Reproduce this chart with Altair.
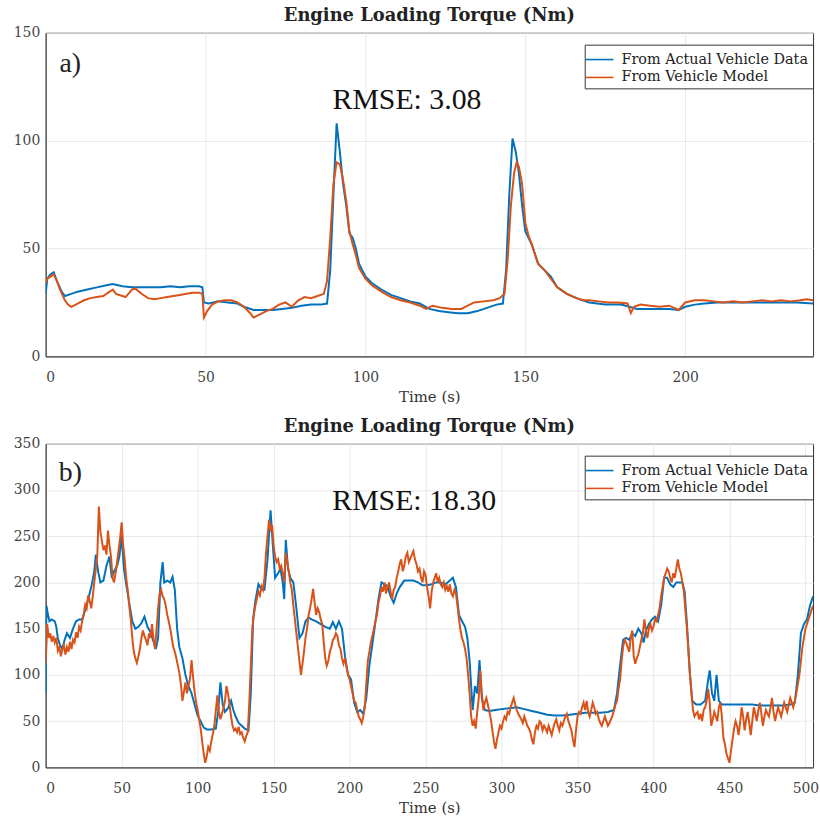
import altair as alt
import pandas as pd

SERIES = ["From Actual Vehicle Data", "From Vehicle Model"]
COLORS = ["#0072BD", "#D95319"]
TITLE = "Engine Loading Torque (Nm)"
X_TITLE = "Time (s)"
PANEL_LABELS = ["a)", "b)"]
RMSE_TEXT = ["RMSE: 3.08", "RMSE: 18.30"]
X_TICKS_A = [0, 50, 100, 150, 200]
Y_TICKS_A = [0, 50, 100, 150]
X_TICKS_B = [0, 50, 100, 150, 200, 250, 300, 350, 400, 450, 500]
Y_TICKS_B = [0, 50, 100, 150, 200, 250, 300, 350]

# (time s, torque Nm) read from panel a)
TOP_ACTUAL = [(0, 29), (0.5, 36), (1.5, 38), (2.5, 39), (3.5, 35), (5, 30), (6, 28), (8, 29), (10, 30),
              (13, 31), (16, 32), (19, 33), (21, 33.5), (24, 32.5), (27, 32), (30, 32), (33, 32), (36, 32),
              (39, 32.5), (42, 32), (45, 32.5), (48, 32.5), (49, 32), (49.5, 25), (51, 24.5), (54, 25.5),
              (57, 25), (60, 24.5), (62, 23), (65, 21.5), (68, 21.5), (71, 21.5), (74, 22), (77, 22.5),
              (80, 23.5), (83, 24), (86, 24), (88, 24.5), (89, 40), (90, 75), (91, 108), (92, 95), (93, 80),
              (94, 70), (95, 57), (96, 55), (97, 50), (98, 43), (100, 37), (102, 34), (105, 31), (108, 28.5),
              (111, 27), (114, 25.5), (117, 24.5), (120, 22), (123, 21), (126, 20.5), (129, 20), (132, 20),
              (135, 21), (138, 22.5), (141, 24), (143, 24.5), (144, 40), (145, 75), (146, 101), (147, 95),
              (148, 85), (149, 70), (150, 58), (151, 55), (152, 52), (154, 43), (156, 40), (158, 37), (160, 32),
              (163, 29), (166, 27), (170, 25), (175, 24), (180, 24), (185, 22), (190, 22), (195, 22),
              (198, 21.5), (200, 23), (203, 24), (206, 24.5), (210, 25), (215, 25), (220, 25), (225, 25),
              (230, 25), (235, 25), (240, 24.5)]

TOP_MODEL = [(0, 34), (0.5, 36), (1.5, 37), (2.5, 38), (3.5, 35), (4.5, 31), (6, 26), (7, 24), (8, 23),
             (10, 24.5), (12, 26), (14, 27), (16, 27.5), (18, 28), (20, 30), (21, 31), (22, 29), (24, 28),
             (25, 27.5), (27, 31), (28, 31.5), (30, 29), (32, 27), (34, 26.5), (36, 27), (38, 27.5), (40, 28),
             (42, 28.5), (44, 29), (46, 29.5), (48, 29.5), (49, 29), (49.5, 18), (50.5, 21), (52, 24),
             (54, 25.5), (56, 26), (58, 26), (60, 25), (62, 23), (64, 20), (65, 18), (67, 19.5), (69, 21),
             (71, 22), (73, 24), (75, 25), (77, 23), (79, 26), (81, 27.5), (83, 27), (85, 28), (87, 29),
             (88, 35), (89, 55), (90, 80), (91, 90), (92, 89), (93, 82), (94, 72), (95, 58), (96, 52), (97, 47),
             (98, 41), (100, 36), (102, 33), (105, 30), (108, 27.5), (111, 26), (114, 25), (117, 23.5),
             (119, 22), (121, 23.5), (124, 22.5), (127, 22), (130, 22), (132, 23.5), (134, 25), (137, 25.5),
             (140, 26), (142, 27), (143.5, 29), (144.5, 45), (145.5, 70), (146.5, 85), (147.3, 90), (148, 88),
             (149, 80), (150, 62), (151, 56), (152, 52), (154, 43), (156, 40), (158, 36), (160, 32), (163, 29),
             (166, 27), (168, 26), (170, 26), (173, 25.5), (176, 25), (179, 25), (182, 24.5), (183, 20),
             (184, 23), (186, 24), (189, 23.5), (192, 23), (195, 23.5), (198, 21.5), (200, 25), (203, 26),
             (206, 26), (209, 25.5), (212, 25), (215, 25.5), (218, 25), (221, 25.5), (224, 26), (227, 25.5),
             (230, 26), (233, 25.5), (236, 26), (238, 26.5), (240, 26)]

# (time s, torque Nm) read from panel b)
BOTTOM_ACTUAL = [(0, 80), (0.5, 175), (1.5, 165), (2.5, 158), (4, 160), (6, 158), (7, 152), (8, 140),
                 (9.5, 132), (11, 128), (12.5, 138), (14, 145), (16, 140), (18, 150), (20, 158), (22, 160),
                 (24, 160), (26, 170), (28, 182), (30, 195), (32, 212), (33, 230), (34.5, 212), (36, 200),
                 (38, 202), (40, 218), (42, 228), (43.5, 205), (45, 212), (47, 218), (48.5, 228), (50, 250),
                 (51.5, 215), (53, 198), (55, 178), (57, 158), (59, 150), (61, 152), (63, 156), (65, 163),
                 (67, 152), (69, 146), (71, 136), (72.5, 128), (74, 140), (75.5, 200), (77, 222), (78, 200),
                 (80, 202), (82, 200), (83.5, 206), (85, 192), (86.5, 150), (88, 130), (90, 118), (92, 100),
                 (94, 88), (96, 80), (98, 68), (100, 56), (102, 50), (104, 43), (106, 41), (109, 41), (112, 42),
                 (113.5, 60), (115, 92), (116.5, 68), (118, 60), (120, 64), (122, 72), (123.5, 62), (125, 55),
                 (127, 48), (129, 45), (131, 42), (133.5, 40), (135, 80), (136.5, 160), (138, 180), (140, 198),
                 (142, 192), (144, 192), (146, 225), (148, 278), (149.5, 240), (151, 205), (153, 210),
                 (154.5, 215), (156, 200), (157, 182), (158, 246), (159.5, 215), (161, 205), (163, 200),
                 (165, 172), (167, 140), (169, 145), (171, 158), (173, 162), (175, 160), (178, 158), (181, 155),
                 (184, 152), (187, 150), (189, 157), (191, 150), (193, 158), (195, 150), (197, 120), (199, 100),
                 (201, 95), (203, 70), (205, 60), (207, 62), (209, 58), (211, 75), (213, 110), (216, 145),
                 (219, 182), (221, 200), (223, 198), (225, 196), (227, 185), (229, 178), (231, 188), (233, 195),
                 (236, 202), (239, 202), (242, 202), (245, 200), (248, 197), (251, 197), (254, 198), (257, 200),
                 (260, 200), (263, 198), (266, 202), (268, 205), (270, 195), (272, 165), (274, 158), (276, 152),
                 (277.5, 140), (279, 115), (281, 62), (282.5, 88), (284, 80), (285.5, 116), (287, 75), (289, 62),
                 (292, 61), (296, 62), (300, 63), (305, 64), (310, 65), (315, 63), (320, 61), (325, 59),
                 (330, 57), (335, 56), (340, 56), (345, 57), (350, 58), (355, 59), (360, 59), (365, 59),
                 (370, 60), (374, 62), (376, 80), (378, 110), (380, 138), (382, 140), (384, 138), (386, 145),
                 (388, 142), (390, 150), (392, 145), (393.5, 135), (395, 148), (397, 155), (399, 160), (401, 163),
                 (403, 158), (405, 175), (407, 205), (409, 205), (411, 198), (413, 195), (415, 200), (417, 200),
                 (419, 200), (420.5, 190), (422, 155), (424, 100), (425.5, 72), (428, 68), (431, 68), (434, 72),
                 (436, 95), (437, 105), (438.5, 80), (440, 72), (441.5, 100), (443, 72), (445, 68), (450, 68),
                 (455, 68), (460, 68), (465, 68), (470, 67), (475, 67), (480, 67), (485, 67), (490, 68),
                 (493, 70), (495, 100), (497, 145), (499, 155), (501, 160), (503, 175), (505, 185)]

BOTTOM_MODEL = [(0, 112), (1, 155), (2, 140), (3, 145), (4, 136), (5, 142), (6, 135), (7, 140), (8, 126),
                (9, 130), (10, 120), (11, 128), (12, 132), (13, 122), (14, 130), (15, 125), (16, 136), (17, 128),
                (18, 138), (19, 135), (20, 146), (21, 140), (22, 152), (23, 148), (24, 158), (25, 165), (26, 176),
                (27, 172), (28, 186), (29, 180), (30, 172), (31, 185), (32, 200), (33, 215), (34, 230), (35, 282),
                (36, 255), (37, 245), (38, 235), (39, 240), (40, 230), (41, 256), (42, 240), (43, 228), (44, 205),
                (45, 200), (46, 210), (47, 222), (48, 235), (49, 248), (50, 265), (51, 240), (52, 225), (53, 205),
                (54, 192), (55, 175), (56, 160), (57, 140), (58, 125), (59, 118), (60, 113), (61, 120), (62, 128),
                (63, 140), (64, 148), (65, 142), (66, 138), (67, 132), (68, 145), (69, 140), (70, 155), (71, 138),
                (72, 128), (73, 150), (74, 172), (75, 188), (76, 192), (77, 185), (78, 182), (79, 175), (80, 165),
                (81, 158), (82, 150), (83, 140), (84, 130), (85, 125), (86, 118), (87, 110), (88, 102), (89, 90),
                (90, 72), (91, 82), (92, 92), (93, 80), (94, 88), (95, 96), (96, 116), (97, 98), (98, 82),
                (99, 70), (100, 62), (101, 52), (102, 42), (103, 28), (104, 15), (105, 5), (106, 12), (107, 22),
                (108, 18), (109, 28), (110, 36), (111, 45), (112, 62), (113, 78), (114, 60), (115, 52), (116, 58),
                (117, 64), (118, 72), (119, 88), (120, 80), (121, 68), (122, 55), (123, 45), (124, 40), (125, 42),
                (126, 38), (127, 44), (128, 36), (129, 38), (130, 32), (131, 28), (132, 34), (133, 38), (134, 70),
                (135, 110), (136, 150), (137, 165), (138, 175), (139, 182), (140, 190), (141, 186), (142, 196),
                (143, 192), (144, 205), (145, 232), (146, 250), (147, 268), (148, 258), (149, 262), (150, 240),
                (151, 228), (152, 222), (153, 225), (154, 215), (155, 218), (156, 210), (157, 200), (158, 232),
                (159, 222), (160, 212), (161, 200), (162, 192), (163, 175), (164, 160), (165, 145), (166, 130),
                (167, 115), (168, 100), (169, 112), (170, 125), (171, 140), (172, 150), (173, 165), (174, 172),
                (175, 182), (176, 193), (177, 178), (178, 165), (179, 172), (180, 168), (181, 160), (182, 155),
                (183, 135), (184, 118), (185, 110), (186, 115), (187, 125), (188, 130), (189, 138), (190, 140),
                (191, 145), (192, 142), (193, 132), (194, 128), (195, 118), (196, 112), (197, 118), (198, 108),
                (199, 100), (200, 95), (201, 88), (202, 80), (203, 72), (204, 70), (205, 62), (206, 55), (207, 52),
                (208, 48), (209, 55), (210, 65), (211, 90), (212, 115), (213, 125), (214, 135), (215, 142),
                (216, 150), (217, 158), (218, 165), (219, 178), (220, 185), (221, 195), (222, 190), (223, 200),
                (224, 188), (225, 195), (226, 200), (227, 190), (228, 182), (229, 192), (230, 195), (231, 205),
                (232, 212), (233, 220), (234, 225), (235, 212), (236, 218), (237, 228), (238, 232), (239, 222),
                (240, 226), (241, 230), (242, 234), (243, 225), (244, 220), (245, 212), (246, 215), (247, 205),
                (248, 200), (249, 212), (250, 208), (251, 195), (252, 185), (253, 172), (254, 190), (255, 200),
                (256, 205), (257, 210), (258, 200), (259, 205), (260, 198), (261, 195), (262, 200), (263, 192),
                (264, 196), (265, 190), (266, 198), (267, 188), (268, 185), (269, 192), (270, 188), (271, 175),
                (272, 160), (273, 148), (274, 140), (275, 135), (276, 128), (277, 118), (278, 100), (279, 80),
                (280, 55), (281, 45), (282, 50), (283, 42), (284, 60), (285, 75), (286, 105), (287, 80), (288, 62),
                (289, 70), (290, 75), (291, 68), (292, 60), (293, 52), (294, 40), (295, 28), (296, 20), (297, 30),
                (298, 38), (299, 45), (300, 42), (301, 50), (302, 55), (303, 52), (304, 60), (305, 58), (306, 65),
                (307, 70), (308, 75), (309, 68), (310, 62), (311, 58), (312, 55), (313, 52), (314, 48), (315, 55),
                (316, 50), (317, 45), (318, 42), (319, 38), (320, 30), (321, 25), (322, 38), (323, 45), (324, 42),
                (325, 50), (326, 48), (327, 40), (328, 45), (329, 42), (330, 38), (331, 45), (332, 40), (333, 35),
                (334, 42), (335, 48), (336, 52), (337, 45), (338, 40), (339, 48), (340, 45), (341, 50), (342, 55),
                (343, 58), (344, 50), (345, 45), (346, 40), (347, 30), (348, 22), (349, 40), (350, 55), (351, 60),
                (352, 58), (353, 65), (354, 70), (355, 62), (356, 72), (357, 60), (358, 55), (359, 62), (360, 70),
                (361, 65), (362, 58), (363, 60), (364, 52), (365, 48), (366, 45), (367, 50), (368, 55), (369, 50),
                (370, 45), (371, 48), (372, 52), (373, 56), (374, 62), (375, 68), (376, 72), (377, 85), (378, 95),
                (379, 115), (380, 130), (381, 138), (382, 135), (383, 130), (384, 125), (385, 140), (386, 148),
                (387, 120), (388, 112), (389, 118), (390, 122), (391, 130), (392, 138), (393, 145), (394, 160),
                (395, 148), (396, 140), (397, 150), (398, 155), (399, 148), (400, 152), (401, 160), (402, 158),
                (403, 165), (404, 172), (405, 185), (406, 195), (407, 205), (408, 210), (409, 215), (410, 212),
                (411, 205), (412, 200), (413, 210), (414, 205), (415, 215), (416, 225), (417, 215), (418, 210),
                (419, 200), (420, 190), (421, 170), (422, 150), (423, 125), (424, 100), (425, 80), (426, 62),
                (427, 55), (428, 58), (429, 60), (430, 52), (431, 58), (432, 50), (433, 62), (434, 65), (435, 72),
                (436, 85), (437, 70), (438, 45), (439, 52), (440, 60), (441, 55), (442, 50), (443, 65), (444, 70),
                (445, 55), (446, 32), (447, 25), (448, 15), (449, 10), (450, 5), (451, 18), (452, 30), (453, 42),
                (454, 50), (455, 45), (456, 35), (457, 48), (458, 65), (459, 55), (460, 40), (461, 52), (462, 60),
                (463, 48), (464, 35), (465, 50), (466, 65), (467, 58), (468, 50), (469, 62), (470, 70), (471, 58),
                (472, 45), (473, 55), (474, 62), (475, 58), (476, 55), (477, 65), (478, 75), (479, 60), (480, 50),
                (481, 58), (482, 65), (483, 60), (484, 55), (485, 62), (486, 70), (487, 65), (488, 60), (489, 68),
                (490, 75), (491, 70), (492, 65), (493, 72), (494, 80), (495, 90), (496, 100), (497, 115),
                (498, 130), (499, 140), (500, 150), (501, 155), (502, 160), (503, 165), (504, 170), (505, 175)]

SERIF = "DejaVu Serif"
BIG_SERIF = "Liberation Serif"


def make_df(actual, model):
    rows = [{"t": t, "v": v, "series": SERIES[0]} for t, v in actual]
    rows += [{"t": t, "v": v, "series": SERIES[1]} for t, v in model]
    return pd.DataFrame(rows)


def panel(actual, model, xmax, ymax, xticks, yticks, label, label_pos, rmse, rmse_pos):
    df = make_df(actual, model)
    x_enc = alt.X("t:Q", scale=alt.Scale(domain=[0, xmax], nice=False, zero=True),
                  axis=alt.Axis(values=xticks, title=X_TITLE, labelPadding=14, titlePadding=5))
    y_enc = alt.Y("v:Q", scale=alt.Scale(domain=[0, ymax], nice=False),
                  axis=alt.Axis(values=yticks, title=None, minExtent=40, maxExtent=40, labelPadding=6))
    color = alt.Color(
        "series:N",
        scale=alt.Scale(domain=SERIES, range=COLORS),
        legend=alt.Legend(
            title=None, orient="none", legendX=543, legendY=12, direction="vertical",
            fillColor="white", strokeColor="#333333", padding=4,
            labelFont=SERIF, labelFontSize=14.5, labelColor="#222222", labelOffset=11, labelLimit=400,
            symbolType="M-1.4,0H1.4", symbolSize=400, symbolStrokeWidth=1.6, rowPadding=0,
            symbolFillColor="transparent",
        ),
    )
    base = alt.Chart(df)
    l_actual = base.transform_filter(alt.datum.series == SERIES[0]).mark_line(
        clip=True, strokeWidth=2).encode(x=x_enc, y=y_enc, color=color)
    l_model = base.transform_filter(alt.datum.series == SERIES[1]).mark_line(
        clip=True, strokeWidth=2).encode(x=x_enc, y=y_enc, color=color)
    lab_df = pd.DataFrame({"t": [label_pos[0]], "v": [label_pos[1]], "txt": [label]})
    rm_df = pd.DataFrame({"t": [rmse_pos[0]], "v": [rmse_pos[1]], "txt": [rmse]})
    lab = alt.Chart(lab_df).mark_text(font=BIG_SERIF, fontSize=28, color="#222222",
                                      align="center", baseline="middle").encode(
        x=x_enc, y=y_enc, text="txt:N")
    rm = alt.Chart(rm_df).mark_text(font=BIG_SERIF, fontSize=30, color="#111111",
                                    align="center", baseline="middle").encode(
        x=x_enc, y=y_enc, text="txt:N")
    return alt.layer(l_actual, l_model, lab, rm).properties(
        width=773, height=326,
        title=alt.Title(TITLE, font=SERIF, fontSize=18, fontWeight="bold", color="#222222",
                        anchor="middle", offset=1),
    )


top = panel(TOP_ACTUAL, TOP_MODEL, 240, 150, X_TICKS_A, Y_TICKS_A,
            PANEL_LABELS[0], (7.7, 135.7), RMSE_TEXT[0], (113, 119))
bottom = panel(BOTTOM_ACTUAL, BOTTOM_MODEL, 505, 350, X_TICKS_B, Y_TICKS_B,
               PANEL_LABELS[1], (16.3, 318), RMSE_TEXT[1], (242.5, 288))

chart = alt.vconcat(top, bottom, spacing=12).resolve_legend(color="independent").properties(
    padding={"left": 5, "top": 3, "right": 0, "bottom": 0},
    background="white",
).configure_axis(
    labelFont=SERIF, labelFontSize=14, labelColor="#444444",
    titleFont=SERIF, titleFontSize=15, titleFontWeight="normal", titleColor="#333333",
    domainColor="#333333", gridColor="#e8e8e8", ticks=False,
).configure_view(stroke="#333333", strokeWidth=1)

chart.save("out.html", embed_options={"renderer": "svg", "actions": False})
